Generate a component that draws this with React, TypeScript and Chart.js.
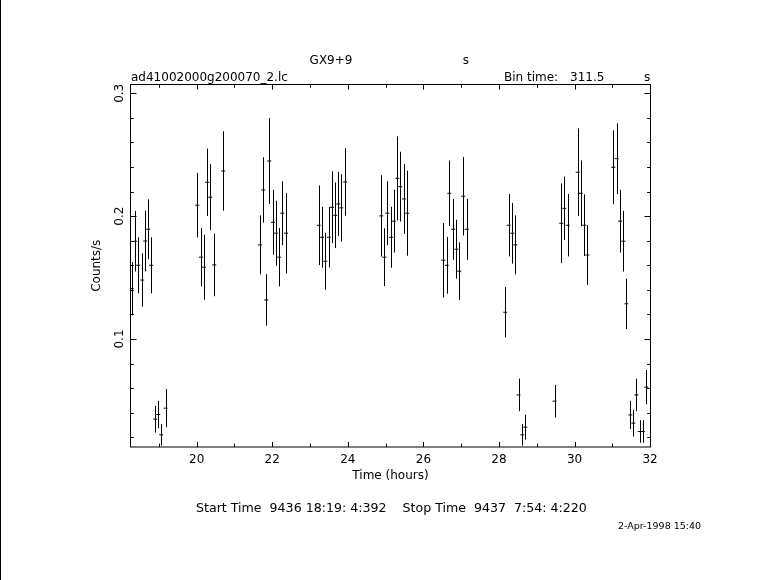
import React, { useEffect, useRef } from "react";
import { Chart, registerables } from "chart.js";

Chart.register(...registerables);

// Time (hours) of each bin centre
const times = [
  18.28, 18.375, 18.454, 18.56, 18.64, 18.719, 18.798, 18.904, 18.984, 19.063, 19.18,
  20.016, 20.114, 20.193, 20.28, 20.36, 20.466, 20.704,
  21.676, 21.763, 21.842, 21.922, 22.02, 22.099, 22.186, 22.266, 22.364,
  23.229, 23.317, 23.404, 23.494, 23.581, 23.669, 23.748, 23.827, 23.933,
  24.886, 24.966, 25.045, 25.143, 25.222, 25.31, 25.389, 25.487, 25.574,
  26.527, 26.617, 26.686, 26.792, 26.871, 26.951, 27.057, 27.147,
  28.168, 28.258, 28.354, 28.433, 28.518, 28.618, 28.698,
  29.471,
  29.651, 29.73, 29.82, 30.085, 30.164, 30.259, 30.339,
  31.027, 31.117, 31.204, 31.292, 31.371, 31.477, 31.556, 31.636, 31.726, 31.805, 31.9,
];

// Count rate (counts/s)
const rates = [
  0.141, 0.1796, 0.16, 0.148, 0.1798, 0.1893, 0.16, 0.0347, 0.0385, 0.022, 0.0437,
  0.2089, 0.1666, 0.1584, 0.2276, 0.2154, 0.1603, 0.2368,
  0.1766, 0.2213, 0.1318, 0.2449, 0.195, 0.1861, 0.1666, 0.2024, 0.1861,
  0.1926, 0.1828, 0.1633, 0.1828, 0.2072, 0.2007, 0.2099, 0.2067, 0.2278,
  0.2002, 0.1666, 0.2024, 0.1828, 0.1959, 0.2308, 0.224, 0.214, 0.2024,
  0.1641, 0.16, 0.2186, 0.1893, 0.1731, 0.1552, 0.2162, 0.1893,
  0.1218, 0.1926, 0.1861, 0.1766, 0.0545, 0.022, 0.0282,
  0.0494,
  0.1942, 0.2064, 0.1926, 0.2357, 0.2186, 0.1926, 0.1684,
  0.2398, 0.2468, 0.1959, 0.1796, 0.1286, 0.0382, 0.0315, 0.0545, 0.0247, 0.0247, 0.0608,
];

// 1-sigma errors on the rate
const errors = [
  0.0217, 0.0247, 0.0228, 0.0217, 0.0247, 0.0244, 0.0228, 0.0109, 0.0112, 0.0088, 0.0156,
  0.0263, 0.0237, 0.0264, 0.0275, 0.0269, 0.0255, 0.0323,
  0.024, 0.0266, 0.021, 0.0349, 0.0264, 0.0264, 0.0237, 0.026, 0.0328,
  0.0324, 0.0248, 0.0232, 0.0246, 0.0292, 0.0267, 0.0262, 0.0274, 0.0275,
  0.0331, 0.0235, 0.026, 0.0248, 0.0255, 0.0342, 0.0284, 0.0285, 0.0346,
  0.0303, 0.0231, 0.0267, 0.0248, 0.024, 0.0235, 0.0319, 0.0248,
  0.0205, 0.0254, 0.0247, 0.024, 0.0132, 0.0088, 0.0102,
  0.0133,
  0.0325, 0.0258, 0.0254, 0.0357, 0.0267, 0.0251, 0.0243,
  0.0301, 0.0288, 0.0255, 0.0247, 0.0205, 0.0115, 0.0109, 0.0132, 0.0092, 0.0092, 0.014,
];

const xMajorTicks = [20, 22, 24, 26, 28, 30, 32];
const xTickLabels = ["20", "22", "24", "26", "28", "30", "32"];
const xMinorTicks = [19, 21, 23, 25, 27, 29, 31];
const yMajorTicks = [0.1, 0.2, 0.3];
const yTickLabels = ["0.1", "0.2", "0.3"];
const yMinorTicks = [0.02, 0.04, 0.06, 0.08, 0.12, 0.14, 0.16, 0.18, 0.22, 0.24, 0.26, 0.28];

const xRange = [18.25, 32.01];
const yRange = [0.01209, 0.30716];

const sourceName = "GX9+9";
const fileName = "ad41002000g200070_2.lc";
const binTimeLabel = "Bin time:";
const binTimeValue = "311.5";
const unitS = "s";
const xTitle = "Time (hours)";
const yTitle = "Counts/s";
const startLabel = "Start Time  9436 18:19: 4:392    Stop Time  9437  7:54: 4:220";
const dateLabel = "2-Apr-1998 15:40";

const FONT = '"DejaVu Sans", sans-serif';

const errorBarPlugin = {
  id: "errorBars",
  afterDatasetsDraw(chart: any) {
    const { ctx, chartArea: a, scales } = chart;
    const xs = scales.x;
    const ys = scales.y;
    ctx.save();
    ctx.beginPath();
    ctx.rect(a.left, a.top, a.right - a.left, a.bottom - a.top);
    ctx.clip();
    ctx.strokeStyle = "#000";
    ctx.lineWidth = 1;
    for (let i = 0; i < times.length; i++) {
      const px = Math.round(xs.getPixelForValue(times[i])) + 0.5;
      const y1 = ys.getPixelForValue(rates[i] - errors[i]);
      const y2 = ys.getPixelForValue(rates[i] + errors[i]);
      ctx.beginPath();
      ctx.moveTo(px, y1);
      ctx.lineTo(px, y2);
      ctx.stroke();
    }
    ctx.restore();
  },
};

const framePlugin = {
  id: "frameAndText",
  afterDraw(chart: any) {
    const { ctx, chartArea: a, scales } = chart;
    const xs = scales.x;
    const ys = scales.y;
    ctx.save();
    ctx.strokeStyle = "#000";
    ctx.fillStyle = "#000";
    ctx.lineWidth = 1;
    const line = (x1: number, y1: number, x2: number, y2: number) => {
      ctx.beginPath();
      ctx.moveTo(x1, y1);
      ctx.lineTo(x2, y2);
      ctx.stroke();
    };
    // page edge line
    line(0.5, 0, 0.5, 580);
    // frame
    ctx.strokeRect(a.left, a.top, a.right - a.left, a.bottom - a.top);
    // x ticks
    const xt = (v: number, len: number) => {
      const px = Math.round(xs.getPixelForValue(v)) + 0.5;
      line(px, a.bottom, px, a.bottom - len);
      line(px, a.top, px, a.top + len);
    };
    xMajorTicks.forEach((v) => xt(v, 5));
    xMinorTicks.forEach((v) => xt(v, 3.3));
    const yt = (v: number, len: number) => {
      const py = Math.round(ys.getPixelForValue(v)) + 0.5;
      line(a.left, py, a.left + len, py);
      line(a.right, py, a.right - len, py);
    };
    yMajorTicks.forEach((v) => yt(v, 6));
    yMinorTicks.forEach((v) => yt(v, 3.3));

    // x tick labels
    ctx.font = `12px ${FONT}`;
    ctx.textAlign = "center";
    ctx.textBaseline = "alphabetic";
    xMajorTicks.forEach((v, i) => {
      ctx.fillText(xTickLabels[i], xs.getPixelForValue(v), 463);
    });
    ctx.fillText(xTitle, (a.left + a.right) / 2, 479);

    // y tick labels (rotated)
    yMajorTicks.forEach((v, i) => {
      ctx.save();
      ctx.translate(122.5, ys.getPixelForValue(v));
      ctx.rotate(-Math.PI / 2);
      ctx.textAlign = "center";
      ctx.textBaseline = "alphabetic";
      ctx.fillText(yTickLabels[i], 0, 0);
      ctx.restore();
    });
    ctx.save();
    ctx.translate(100, (a.top + a.bottom) / 2);
    ctx.rotate(-Math.PI / 2);
    ctx.textAlign = "center";
    ctx.fillText(yTitle, 0, 0);
    ctx.restore();

    // header texts
    ctx.textAlign = "center";
    ctx.fillText(sourceName, 331, 64);
    ctx.fillText(unitS, 466, 64);
    ctx.textAlign = "left";
    ctx.fillText(fileName, 131, 81);
    ctx.fillText(binTimeLabel, 504, 81);
    ctx.fillText(binTimeValue, 570, 81);
    ctx.fillText(unitS, 644, 81);

    // footer
    ctx.font = `12.6px ${FONT}`;
    ctx.fillText(startLabel, 196, 512);
    ctx.font = `9.5px ${FONT}`;
    ctx.fillText(dateLabel, 618, 529);
    ctx.restore();
  },
};

export default function App() {
  const ref = useRef<HTMLCanvasElement | null>(null);
  useEffect(() => {
    if (!ref.current) return;
    const chart = new Chart(ref.current, {
      type: "scatter",
      data: {
        datasets: [
          {
            data: times.map((t, i) => ({ x: t, y: rates[i] })),
            pointStyle: "line",
            pointRadius: 2,
            pointHoverRadius: 2,
            borderColor: "#000",
            backgroundColor: "#000",
            pointBorderWidth: 1,
            showLine: false,
          } as any,
        ],
      },
      options: {
        animation: false,
        responsive: false,
        devicePixelRatio: 1,
        events: [],
        layout: { padding: { left: 130.5, right: 130.5, top: 84.5, bottom: 133 } },
        plugins: { legend: { display: false }, tooltip: { enabled: false }, title: { display: false } },
        scales: {
          x: { type: "linear", min: xRange[0], max: xRange[1], display: false },
          y: { type: "linear", min: yRange[0], max: yRange[1], display: false },
        },
      },
      plugins: [errorBarPlugin, framePlugin],
    });
    return () => chart.destroy();
  }, []);
  return (
    <div style={{ position: "absolute", left: 0, top: 0, width: 781, height: 580, background: "#fff" }}>
      <canvas ref={ref} width={781} height={580} style={{ display: "block", width: 781, height: 580 }} />
    </div>
  );
}
